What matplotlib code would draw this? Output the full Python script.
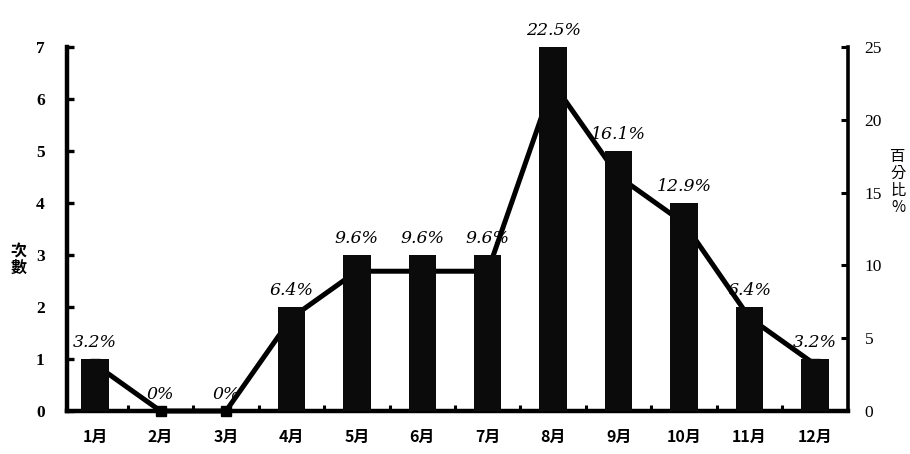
import matplotlib
matplotlib.use("Agg")
import matplotlib.pyplot as plt
import numpy as np

plt.rcParams['font.family'] = ['Noto Sans CJK TC', 'DejaVu Sans']

months = ["1月", "2月", "3月", "4月", "5月", "6月", "7月", "8月", "9月", "10月", "11月", "12月"]
counts = [1, 0, 0, 2, 3, 3, 3, 7, 5, 4, 2, 1]
percents = [3.2, 0, 0, 6.4, 9.6, 9.6, 9.6, 22.5, 16.1, 12.9, 6.4, 3.2]
left_ticks = [0, 1, 2, 3, 4, 5, 6, 7]
right_ticks = [0, 5, 10, 15, 20, 25]

fig = plt.figure(figsize=(9.1, 4.54), dpi=100)
ax = fig.add_axes([0.0736, 0.0947, 0.8582, 0.8018])
ax2 = ax.twinx()

x = np.arange(len(months))

# percentage line sits behind the count bars
ax2.plot(x, percents, color="black", lw=3.6, marker="s", markersize=7,
         solid_joinstyle="miter", clip_on=False, zorder=1)
ax2.set_ylim(0, 25)
ax2.set_yticks(right_ticks)
ax2.set_yticklabels([str(t) for t in right_ticks], fontsize=12.5,
                    family=["Liberation Serif"])

ax.set_zorder(ax2.get_zorder() + 1)
ax.patch.set_visible(False)
ax.bar(x, counts, width=0.42, color="#0b0b0b", zorder=3)
ax.set_ylim(0, 7)
ax.set_xlim(-0.43, 11.504)
ax.set_yticks(left_ticks)
ax.set_yticklabels([str(t) for t in left_ticks], fontsize=12.5,
                   fontweight="bold", family=["Liberation Serif"])
ax.set_xticks(x)
ax.set_xticklabels(months, fontsize=11.5, fontweight="bold")
ax.set_xticks(x[:-1] + 0.5, minor=True)

for a in (ax, ax2):
    a.spines["top"].set_visible(False)
ax.spines["right"].set_visible(False)
ax.spines["left"].set_linewidth(3.2)
ax.spines["bottom"].set_linewidth(3.2)
ax2.spines["left"].set_visible(False)
ax2.spines["bottom"].set_visible(False)
ax2.spines["right"].set_linewidth(2.6)

ax.tick_params(axis="y", direction="in", length=5, width=2.4, pad=16)
ax.tick_params(axis="x", which="major", length=0, pad=13)
ax.tick_params(axis="x", which="minor", direction="in", length=4, width=2.2)
ax2.tick_params(axis="y", direction="in", length=5, width=2.2, pad=12)

# percentage labels written above each bar
for xi, c, p in zip(x, counts, percents):
    ax.annotate(f"{p:g}%", (xi, c), xytext=(0, 6), textcoords="offset points",
                ha="center", va="bottom", fontsize=12.5, style="italic",
                family=["DejaVu Serif"], clip_on=False, zorder=5)

fig.text(0.02, 0.43, "次\n數", fontsize=11.5, fontweight="bold",
         ha="center", va="center", linespacing=1.1)
fig.text(0.995, 0.6, "百\n分\n比\n%", fontsize=11, ha="right", va="center",
         linespacing=1.0)

fig.savefig("out.png", dpi=100)
